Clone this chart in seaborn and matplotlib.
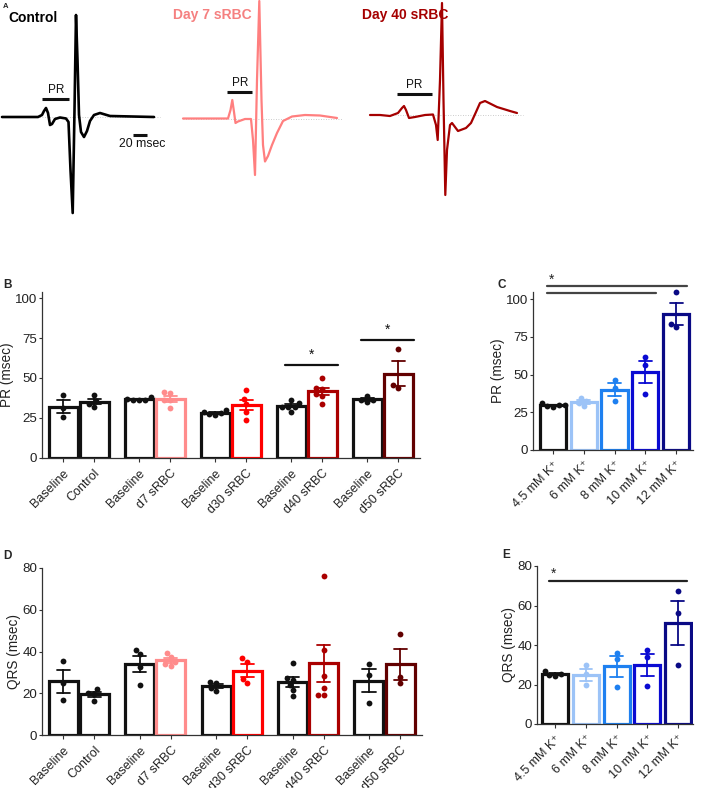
import matplotlib
matplotlib.use("Agg")
import matplotlib.pyplot as plt
import numpy as np
import pandas as pd
import seaborn as sns

# ---------------- data ----------------
# Panel A: representative ECG traces (time, amplitude) in panel pixel units
ctrl_t = [2, 38, 42, 44, 46, 48, 50, 52, 55, 60, 66, 68.5, 70.5, 72.7, 74.5, 76, 77.5, 79, 81, 84, 87, 90, 94, 100, 110, 154]
ctrl_v = [117, 117, 115, 111, 108, 113, 125, 124, 119, 117.5, 118.5, 122, 170, 213, 110, 15, 60, 115, 132, 137, 131, 121, 115, 113, 116, 117]
d7_t = [183, 228, 230.5, 232.3, 234, 235.5, 238, 245, 251, 253, 255, 257, 259.3, 261.5, 263, 265, 268, 272, 277, 283, 292, 305, 320, 337]
d7_v = [118.5, 118.5, 110, 100, 112, 123, 121.5, 119, 119, 140, 175, 80, 1, 100, 145, 161.5, 156, 145, 133, 121, 116.5, 115, 115.5, 118]
d40_t = [370, 380, 390, 398, 402, 404, 406, 409, 415, 425, 433, 436, 437.7, 440, 442, 443.5, 445.3, 447, 450, 452, 458, 466, 471, 476, 480, 485, 497, 510, 517]
d40_v = [115, 115, 116, 113, 108, 106, 110, 118, 117, 115, 114.5, 125, 140, 80, 3, 100, 195, 150, 125, 123, 131, 128, 123, 112, 103, 101, 107, 111, 113]

# Panel B / D: PR and QRS per group
grp_labels = ["Baseline", "Control", "Baseline", "d7 sRBC", "Baseline", "d30 sRBC",
              "Baseline", "d40 sRBC", "Baseline", "d50 sRBC"]
grp_colors = ["#111111", "#111111", "#111111", "#FF8C8C", "#111111", "#FF0000",
              "#111111", "#AA0000", "#111111", "#620000"]
pr_values = [[39.5, 31, 25.5], [39.5, 34, 32, 35.5], [38, 36.5, 36, 37, 36.5],
             [41, 40.5, 36, 36, 31], [27, 29, 28, 30, 27.5], [42.5, 37, 33.5, 29, 24],
             [34.5, 29, 32, 32, 32, 36], [50, 44, 43, 40, 39, 34], [39, 36, 35, 36.5],
             [68.2, 45.6, 44]]
qrs_values = [[35.5, 24.8, 16.8], [22, 20, 19.5, 16.5], [38.7, 40.8, 32.8, 24],
              [37.5, 39.5, 33, 34, 35], [21, 25, 25.5, 22.5], [35.2, 36.8, 24.8, 26.7],
              [34.5, 27.5, 26.5, 24, 21.5, 18.5], [76, 40.5, 28.3, 22.4, 19.2, 19.2],
              [34, 28.8, 15.5], [48.3, 28, 25.1]]

# Panel C / E: potassium series
k_labels = ["4.5 mM K⁺", "6 mM K⁺", "8 mM K⁺", "10 mM K⁺", "12 mM K⁺"]
k_colors = ["#111111", "#9CC3F7", "#1E80F0", "#0A0AD2", "#0A0A85"]
k_pr = [[28.5, 30, 31, 29, 30], [34.5, 32.5, 31, 29], [46.5, 41, 32.2],
        [61.9, 56, 37.2], [104.8, 81.7, 83.3]]
k_qrs = [[27, 24.5, 25.5, 25], [29.8, 25.3, 19.7], [36, 33, 18.5],
         [37.4, 33.7, 19.2], [67.3, 56.2, 30.1]]

# significance bars: (first bar, last bar, height)
pr_sig = [(6, 7, 58), (8, 9, 73.7)]
kpr_sig = [(0, 4, 108.6), (0, 3, 104)]
kqrs_sig = [(0, 4, 72.4)]

# ---------------- style ----------------
sns.set_style("ticks")
plt.rcParams["font.family"] = ["Liberation Sans", "DejaVu Sans"]
plt.rcParams["axes.edgecolor"] = "#333333"
plt.rcParams["xtick.color"] = "#333333"
plt.rcParams["ytick.color"] = "#333333"
plt.rcParams["xtick.labelcolor"] = "#222222"
plt.rcParams["ytick.labelcolor"] = "#222222"

W, H = 709, 788
fig = plt.figure(figsize=(W / 100, H / 100), dpi=100)


def px_axes(left, top, right, bottom):
    return fig.add_axes([left / W, 1 - bottom / H, (right - left) / W, (bottom - top) / H])


# ---------------- Panel A ----------------
axA = px_axes(0, 0, 709, 230)
axA.set_xlim(0, 709)
axA.set_ylim(230, 0)
axA.axis("off")
traces = [(ctrl_t, ctrl_v, "#000000", 1.9), (d7_t, d7_v, "#FF7F7F", 1.6), (d40_t, d40_v, "#A50000", 1.6)]
for t, v, c, lw in traces:
    axA.plot([t[0], t[-1] + 6], [v[0], v[0]], color="#bbbbbb", lw=0.6, ls=(0, (1, 2)))
    sns.lineplot(x=t, y=v, sort=False, estimator=None, color=c, lw=lw, ax=axA)
axA.set_xlabel("")
axA.set_ylabel("")
# PR interval markers
for (x1, x2, y, tx, ty) in [(42, 69, 99, 56, 90), (227, 252, 92, 240, 83), (397, 432, 94, 414, 85)]:
    axA.plot([x1, x2], [y, y], color="#111111", lw=2.2, solid_capstyle="butt")
    axA.text(tx, ty, "PR", ha="center", va="center", fontsize=8.5, color="#111111")
axA.plot([133, 147], [135, 135], color="#111111", lw=2.2, solid_capstyle="butt")
axA.text(119, 144, "20 msec", ha="left", va="center", fontsize=8.8, color="#111111")
axA.text(8, 18, "Control", ha="left", va="center", fontsize=10, fontweight="bold", color="#000000")
axA.text(173, 15, "Day 7 sRBC", ha="left", va="center", fontsize=10, fontweight="bold", color="#F58080")
axA.text(362, 15, "Day 40 sRBC", ha="left", va="center", fontsize=10, fontweight="bold", color="#A50000")
axA.text(3, 7, "A", ha="left", va="center", fontsize=5.5, fontweight="bold")


# ---------------- bar helper ----------------
def draw_bars(ax, positions, values, colors, width):
    for pos, vals, c in zip(positions, values, colors):
        df = pd.DataFrame({"x": [pos] * len(vals), "y": vals})
        sns.barplot(data=df, x="x", y="y", native_scale=True, errorbar="se", fill=False,
                    color=c, linewidth=2.3, width=width, capsize=0.42,
                    err_kws={"color": c, "linewidth": 1.3}, ax=ax)
        sns.swarmplot(data=df, x="x", y="y", native_scale=True, color=c, size=4.2, ax=ax)
    for coll in ax.collections:
        coll.set_clip_on(False)
    ax.set_xlabel("")


def style_axes(ax, positions, labels, xlim, ylim, yticks, ylabel):
    ax.set_xlim(*xlim)
    ax.set_ylim(*ylim)
    ax.set_yticks(yticks)
    ax.set_xticks(positions)
    ax.set_xticklabels(labels, rotation=45, ha="right", rotation_mode="anchor", fontsize=9)
    ax.tick_params(axis="y", labelsize=9.6, length=2.5, width=0.8, pad=1.0)
    ax.tick_params(axis="x", length=3, width=0.8)
    ax.set_ylabel(ylabel, fontsize=9.8, color="#222222", labelpad=0.8)
    sns.despine(ax=ax)
    for s in ("left", "bottom"):
        ax.spines[s].set_linewidth(0.9)


pair_pos = [g * 2.45 + i for g in range(5) for i in (0, 1)]
k_pos = list(range(5))

# ---------------- Panel B ----------------
axB = px_axes(42, 291.6, 420, 458)
draw_bars(axB, pair_pos, pr_values, grp_colors, 0.93)
style_axes(axB, pair_pos, grp_labels, (-0.68, 11.5), (0, 104), [0, 25, 50, 75, 100], "PR (msec)")
for (i, j, y) in pr_sig:
    x1, x2 = pair_pos[i] - 0.2, pair_pos[j] + 0.52
    axB.plot([x1, x2], [y, y], color="#111111", lw=1.6, clip_on=False)
    axB.text((x1 + x2) / 2, y + 2, "*", ha="center", va="bottom", fontsize=10, color="#111111")

# ---------------- Panel C ----------------
axC = px_axes(533, 291.5, 693, 450)
draw_bars(axC, k_pos, k_pr, k_colors, 0.85)
style_axes(axC, k_pos, k_labels, (-0.65, 4.55), (0, 105), [0, 25, 50, 75, 100], "PR (msec)")
for (i, j, y) in kpr_sig:
    axC.plot([k_pos[i] - 0.2, k_pos[j] + 0.36], [y, y], color="#444444", lw=1.6, clip_on=False)
axC.text(k_pos[0] - 0.05, kpr_sig[0][2] - 0.5, "*", ha="center", va="bottom", fontsize=10,
         color="#222222", clip_on=False)

# ---------------- Panel D ----------------
axD = px_axes(42, 568, 422, 735)
draw_bars(axD, pair_pos, qrs_values, grp_colors, 0.93)
style_axes(axD, pair_pos, grp_labels, (-0.68, 11.5), (0, 80), [0, 20, 40, 60, 80], "QRS (msec)")

# ---------------- Panel E ----------------
axE = px_axes(537, 566, 693, 724)
draw_bars(axE, k_pos, k_qrs, k_colors, 0.85)
style_axes(axE, k_pos, k_labels, (-0.6, 4.5), (0, 80), [0, 20, 40, 60, 80], "QRS (msec)")
for (i, j, y) in kqrs_sig:
    axE.plot([k_pos[i] - 0.2, k_pos[j] + 0.3], [y, y], color="#222222", lw=1.6, clip_on=False)
axE.text(k_pos[0] - 0.05, kqrs_sig[0][2] + 0.3, "*", ha="center", va="bottom", fontsize=10,
         color="#222222", clip_on=False)

# panel letters
for (x, y, s) in [(3, 285, "B"), (498, 285, "C"), (3, 556, "D"), (502, 555, "E")]:
    fig.text(x / W, 1 - y / H, s, ha="left", va="center", fontsize=8.5, fontweight="bold")

fig.savefig("out.png", dpi=100)
